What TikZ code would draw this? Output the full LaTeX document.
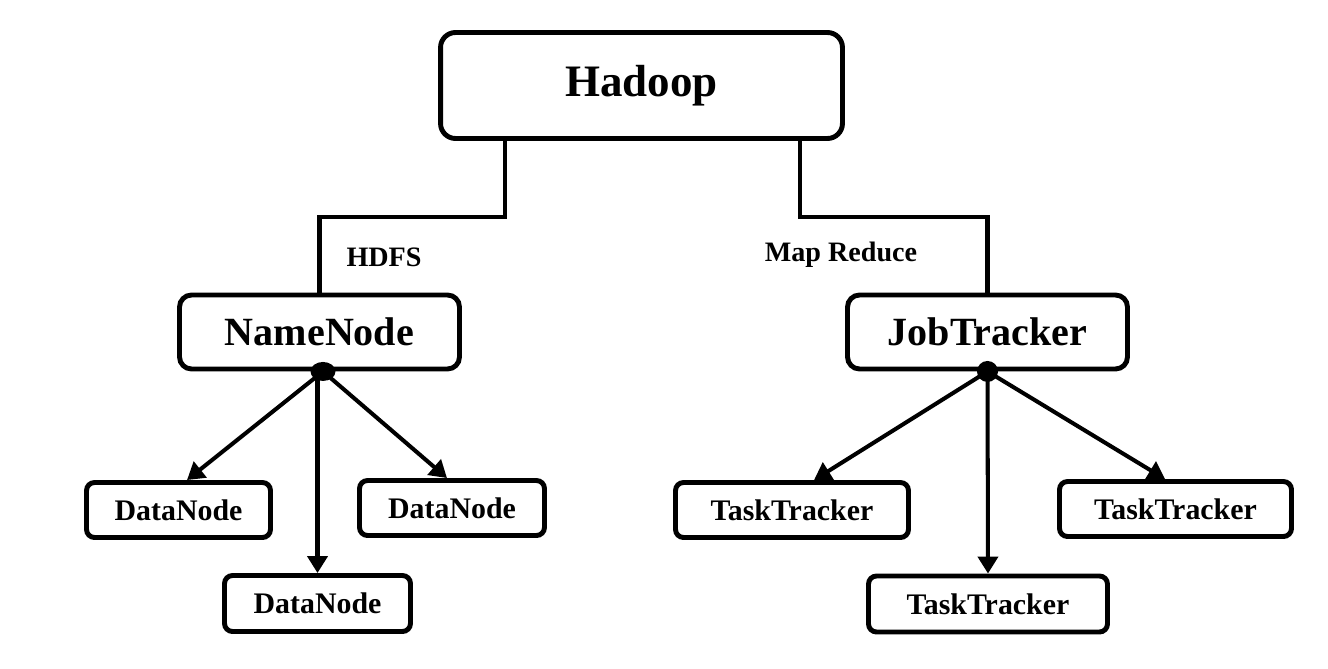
\documentclass[tikz,border=0pt]{standalone}
\usepackage{fontspec}
\setmainfont{Liberation Serif}
\usetikzlibrary{arrows.meta,shapes.geometric}

\begin{document}
\begin{tikzpicture}[x=0.02cm,y=-0.02cm,
        box/.style={draw,rounded corners=0.16cm,line width=2.8pt,inner sep=0pt,
            font=\bfseries\fontsize{17}{20}\selectfont,minimum height=1.1cm},
        bigbox/.style={box,rounded corners=0.24cm,font=\bfseries\fontsize{22.8}{26}\selectfont,
            minimum height=1.48cm,minimum width=5.6cm},
        link/.style={line width=2.3pt},
        arr/.style={link,-{Triangle[length=0.34cm,width=0.4cm]}},
        lbl/.style={font=\bfseries\fontsize{16}{19}\selectfont}]
        \useasboundingbox (0,0) rectangle (1328,669);
        % top
        \node[bigbox,minimum width=8.04cm,minimum height=2.12cm,rounded corners=0.3cm,
            font=\bfseries\fontsize{25.6}{30}\selectfont] (hadoop) at (641.5,85.5) {Hadoop};
        \node[bigbox] (namenode) at (319.5,332) {NameNode};
        \node[bigbox] (jobtracker) at (987.5,332) {JobTracker};
        % HDFS side
        \node[box,minimum width=3.68cm] (dnleft) at (178.5,510) {DataNode};
        \node[box,minimum width=3.72cm,minimum height=1.12cm] (dnmid) at (317.5,603.5) {DataNode};
        \node[box,minimum width=3.7cm] (dnright) at (452,508) {DataNode};
        % MapReduce side
        \node[box,minimum width=4.66cm] (ttleft) at (792,510) {TaskTracker};
        \node[box,minimum width=4.78cm,minimum height=1.12cm] (ttmid) at (988,604) {TaskTracker};
        \node[box,minimum width=4.64cm] (ttright) at (1175.5,509) {TaskTracker};
        % labels
        \node[lbl] (hdfs) at (384,257) {HDFS};
        \node[lbl] (mapred) at (841,255) {Map Reduce};
        % dots
        \node[ellipse,fill,inner sep=0pt,minimum width=0.5cm,minimum height=0.38cm] (nndot)
            at ([xshift=0.07cm]namenode.south) {};
        \node[circle,fill,inner sep=0pt,minimum size=0.42cm] (jtdot) at (jobtracker.south) {};
        % links
        \draw[link] ([xshift=-2.73cm]hadoop.south) -- ++(0,76.5) -| (namenode.north);
        \draw[link] ([xshift=3.17cm]hadoop.south) -- ++(0,76.5) -| (jobtracker.north);
        \draw[arr] (nndot.center) -- ([xshift=0.17cm]dnleft.north);
        \draw[arr] (nndot.center -| dnmid.north) -- (dnmid.north);
        \draw[arr] (nndot.center) -- ([xshift=-0.1cm]dnright.north);
        \draw[arr] (jtdot.center) -- ([xshift=0.44cm]ttleft.north);
        \draw[arr] (jtdot.center) -- (ttmid.north);
        \draw[arr] (jtdot.center) -- ([xshift=-0.21cm]ttright.north);
    \end{tikzpicture}
\end{document}
